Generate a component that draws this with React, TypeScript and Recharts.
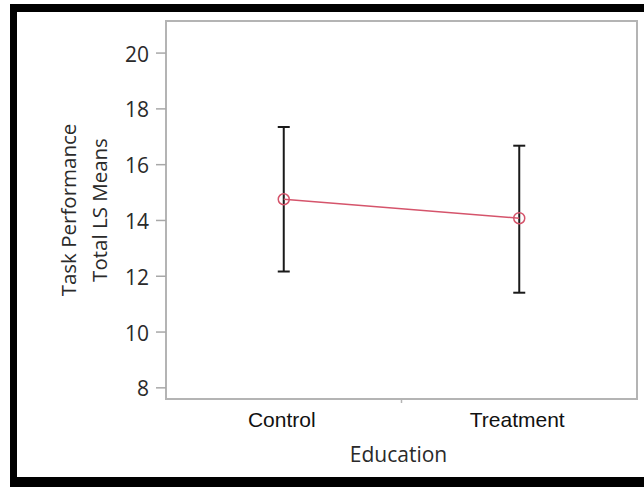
import React from 'react';
import { ComposedChart, Line, ErrorBar, XAxis, YAxis, ReferenceArea } from 'recharts';

// LS means of task performance with their confidence limits, by education group
const categories = ['Control', 'Treatment'];
const lsMeans = [14.76, 14.08];
const lowerLimits = [12.17, 11.41];
const upperLimits = [17.35, 16.68];
const yTicks = [8, 10, 12, 14, 16, 18, 20];
const yDomain: [number, number] = [7.6, 21.15];

const data = categories.map((name, i) => ({
  pos: i + 0.5,
  name,
  mean: lsMeans[i],
  err: [lsMeans[i] - lowerLimits[i], upperLimits[i] - lsMeans[i]],
}));

const xTicks = [0.5, 1, 1.5];
const FONT = '"Open Sans", "Noto Sans", sans-serif';
const LINE_COLOR = '#d5546b';

const YTick = (props: any) => {
  const { x, y, payload } = props;
  return (
    <text x={x} y={y + 8.5} textAnchor="end" fontFamily={FONT} fontSize={21} fill="#2a2a2a">
      {payload.value}
    </text>
  );
};

const XTick = (props: any) => {
  const { x, y, payload } = props;
  const v = payload.value;
  if (Number.isInteger(v)) {
    return <line x1={x} y1={y} x2={x} y2={y + 4} stroke="#b4b4b4" strokeWidth={1.5} />;
  }
  const label = categories[Math.floor(v)];
  return (
    <text x={x - 2} y={y + 28} textAnchor="middle" fontFamily='"Liberation Sans", Arial, sans-serif' fontSize={21} fill="#111">
      {label}
    </text>
  );
};

const YTitle = (props: any) => {
  const { viewBox } = props;
  const cy = viewBox.y + viewBox.height / 2;
  const x1 = viewBox.x + 32;
  const x2 = viewBox.x + 63;
  return (
    <g fontFamily={FONT} fontSize={20.5} fill="#2a2a2a">
      <text x={x1} y={cy} textAnchor="middle" dominantBaseline="central" transform={`rotate(-90 ${x1} ${cy})`}>
        Task Performance
      </text>
      <text x={x2} y={cy} textAnchor="middle" dominantBaseline="central" transform={`rotate(-90 ${x2} ${cy})`}>
        Total LS Means
      </text>
    </g>
  );
};

const XTitle = (props: any) => {
  const { viewBox } = props;
  const cx = viewBox.x + viewBox.width / 2 - 3;
  return (
    <text x={cx} y={viewBox.y + 63} textAnchor="middle" fontFamily={FONT} fontSize={21} fill="#2a2a2a">
      Education
    </text>
  );
};

export default function App() {
  return (
    <div style={{ position: 'fixed', left: 0, top: 0, width: 644, height: 487, background: '#fff', overflow: 'hidden' }}>
      <div
        style={{
          position: 'absolute',
          left: 10,
          top: 4,
          width: 634,
          height: 483,
          boxSizing: 'border-box',
          borderTop: '8px solid #000',
          borderLeft: '7px solid #000',
          borderBottom: '10px solid #000',
        }}
      />
      <div style={{ position: 'absolute', left: 0, top: 0 }}>
        <ComposedChart
          width={644}
          height={487}
          data={data}
          margin={{ top: 21, right: 7, bottom: 58, left: 36 }}
        >
          <XAxis
            dataKey="pos"
            type="number"
            domain={[0, 2]}
            ticks={xTicks}
            tick={<XTick />}
            tickLine={false}
            tickSize={0}
            tickMargin={0}
            axisLine={false}
            height={30}
            label={<XTitle />}
          />
          <YAxis
            type="number"
            domain={yDomain}
            ticks={yTicks}
            allowDataOverflow
            width={130}
            tick={<YTick />}
            tickSize={10}
            tickMargin={7}
            tickLine={{ stroke: '#a8a8a8', strokeWidth: 1.5 }}
            axisLine={false}
            label={<YTitle />}
          />
          <ReferenceArea
            x1={0}
            x2={2}
            y1={yDomain[0]}
            y2={yDomain[1]}
            fill="none"
            stroke="#b4b4b4"
            strokeWidth={2}
            ifOverflow="visible"
          />
          <Line
            dataKey="mean"
            stroke={LINE_COLOR}
            strokeWidth={1.5}
            dot={{ r: 5.5, stroke: LINE_COLOR, strokeWidth: 1.5, fill: 'none' }}
            isAnimationActive={false}
          >
            <ErrorBar dataKey="err" direction="y" width={6} stroke="#1a1a1a" strokeWidth={2} />
          </Line>
        </ComposedChart>
      </div>
    </div>
  );
}
